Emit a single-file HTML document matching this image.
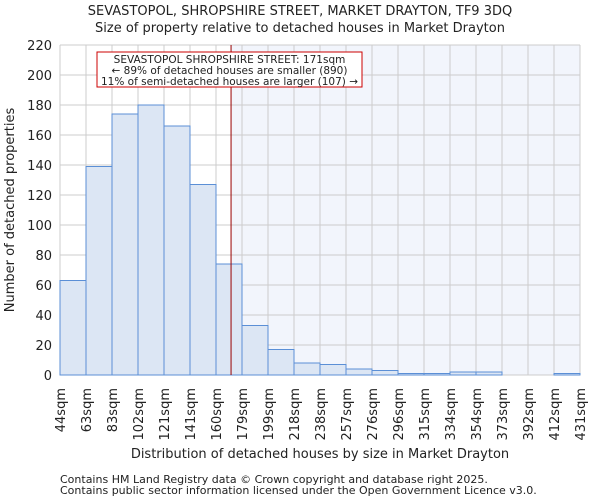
<!DOCTYPE html>
<html><head><meta charset="utf-8"><style>
body{margin:0;background:#fff;font-family:"DejaVu Sans","Liberation Sans",sans-serif;}
svg text{font-family:"DejaVu Sans","Liberation Sans",sans-serif;fill:#222;}
</style></head><body>
<svg id="c" width="600" height="500">
<text x="300" y="15" text-anchor="middle" font-size="13">SEVASTOPOL, SHROPSHIRE STREET, MARKET DRAYTON, TF9 3DQ</text>
<text x="300" y="32" text-anchor="middle" font-size="13">Size of property relative to detached houses in Market Drayton</text>
<g id="plot"></g>
<text x="14" y="210" transform="rotate(-90 14 210)" text-anchor="middle" font-size="13">Number of detached properties</text>
<text x="320" y="458" text-anchor="middle" font-size="13">Distribution of detached houses by size in Market Drayton</text>
<text x="60" y="483" font-size="11" fill="#444">Contains HM Land Registry data © Crown copyright and database right 2025.</text>
<text x="60" y="494" font-size="11" fill="#444">Contains public sector information licensed under the Open Government Licence v3.0.</text>
</svg>
<script>
const labels=["44sqm","63sqm","83sqm","102sqm","121sqm","141sqm","160sqm","179sqm","199sqm","218sqm","238sqm","257sqm","276sqm","296sqm","315sqm","334sqm","354sqm","373sqm","392sqm","412sqm","431sqm"];
const counts=[63,139,174,180,166,127,74,33,17,8,7,4,3,1,1,2,2,0,0,1];
const yTicks=[0,20,40,60,80,100,120,140,160,180,200,220];
const edges=[44,63,83,102,121,141,160,179,199,218,238,257,276,296,315,334,354,373,392,412,431];
const marker=171;
const X0=60,X1=580,Y0=375,Y1=45,yMax=220;
const n=counts.length,bw=(X1-X0)/n;
const xi=i=>X0+i*bw;
const y=v=>Y0-(v/yMax)*(Y0-Y1);
function xv(v){for(let i=0;i<edges.length-1;i++){if(v<=edges[i+1])return xi(i)+bw*(v-edges[i])/(edges[i+1]-edges[i]);}return X1;}
const g=document.getElementById('plot');const NS="http://www.w3.org/2000/svg";
function mk(t,a){const e=document.createElementNS(NS,t);for(const k in a)e.setAttribute(k,a[k]);g.appendChild(e);return e;}
const mx=xv(marker);
let e=mk('rect',{x:mx,y:Y1,width:X1-mx,height:Y0-Y1,fill:'#f2f5fc'});


yTicks.forEach(t=>{let l=mk('line',{x1:X0,x2:X1,y1:y(t),y2:y(t),stroke:'#cccccc'});


let tx=mk('text',{x:X0-8,y:y(t)+5,'text-anchor':'end','font-size':'13'});tx.textContent=t;

});
labels.forEach((s,i)=>{let l=mk('line',{x1:xi(i),x2:xi(i),y1:Y1,y2:Y0,stroke:'#cccccc'});


const x=xi(i)+5;let tx=mk('text',{x:x,y:388,'text-anchor':'end','font-size':'13',transform:`rotate(-90 ${x} 388)`});tx.textContent=s;

});
counts.forEach((v,i)=>{if(v<=0)return;let r=mk('rect',{x:xi(i),y:y(v),width:bw,height:Y0-y(v),fill:'#dce6f4',stroke:'#5b8fd6','stroke-width':1});

});
e=mk('line',{x1:mx,x2:mx,y1:Y1,y2:Y0,stroke:'#990000','stroke-width':1});


e=mk('rect',{x:97,y:52,width:265,height:35,fill:'#fff',stroke:'#cc0000'});


["SEVASTOPOL SHROPSHIRE STREET: 171sqm","← 89% of detached houses are smaller (890)","11% of semi-detached houses are larger (107) →"].forEach((s,i)=>{let t=mk('text',{x:229.5,y:63+i*11,'text-anchor':'middle','font-size':'10.5'});t.textContent=s;

});
</script>
</body></html>
